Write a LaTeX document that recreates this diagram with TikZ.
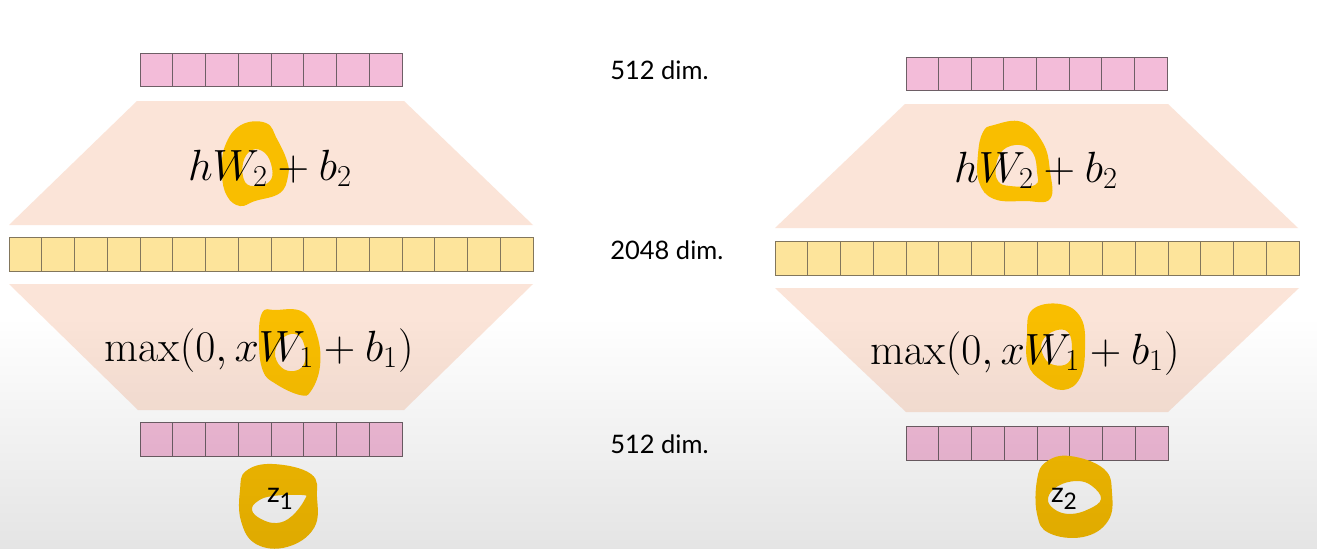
\documentclass[tikz,border=0pt]{standalone}
\usepackage{fontspec}
\newfontfamily\labfont{Lato}
\usetikzlibrary{fadings}
\definecolor{pinkc}{RGB}{243,188,217}
\definecolor{yellc}{RGB}{253,228,155}
\definecolor{peach}{RGB}{251,228,216}
\definecolor{cellline}{RGB}{110,95,102}
\definecolor{yline}{RGB}{130,118,92}
\definecolor{hl}{RGB}{249,190,0}
\tikzset{
  pinkcell/.style={fill=pinkc, draw=cellline, line width=0.55pt},
  yellcell/.style={fill=yellc, draw=yline, line width=0.55pt},
  trap/.style={fill=peach},
  hilite/.style={fill=hl, even odd rule},
  formula/.style={inner sep=0pt, anchor=base, font=\fontsize{25}{30}\selectfont},
  dimlabel/.style={inner sep=0pt, anchor=base west, font=\labfont\fontsize{14.5}{17}\selectfont},
  zlabel/.style={inner sep=0pt, anchor=base, font=\labfont\fontsize{16}{18}\selectfont},
}
\newcommand\cellbar[6]{%
  \pgfmathsetmacro\cellw{(#3-#1)/#5}%
  \foreach \i in {1,...,#5}{\draw[#6] ({#1+(\i-1)*\cellw},#2) rectangle ({#1+\i*\cellw},#4);}%
}
\begin{document}
\begin{tikzpicture}[x=0.02cm,y=-0.02cm]
\useasboundingbox (0,0) rectangle (1318,548);
\fill[white] (0,0) rectangle (1318,548);

% ---------- left column ----------
\cellbar{140}{53}{402}{86}{8}{pinkcell}
\fill[trap] (137,101) -- (404,101) -- (533,225) -- (9,225) -- cycle;
\cellbar{9}{237}{533}{271}{16}{yellcell}
\fill[trap] (9,284) -- (533,284) -- (404,410) -- (138,410) -- cycle;
\cellbar{140}{422}{402}{456}{8}{pinkcell}

% highlights left
\fill[hilite] plot[smooth cycle, tension=0.7] coordinates {(241,125) (266,123) (277,139) (287,161) (288,176) (280,193) (255,201) (240,206) (227,196) (222,174) (225,146)}
  plot[smooth cycle, tension=0.7] coordinates {(243,163) (252,150) (265,153) (272,168) (270,181) (257,186) (245,182)};
\fill[hilite] plot[smooth cycle, tension=0.7] coordinates {(262,313) (276,310) (303,312) (317,335) (320,366) (311,391) (300,395) (276,384) (263,371) (259,342)}
  plot[smooth cycle, tension=0.7] coordinates {(275,352) (284,337) (298,335) (305,348) (304,364) (294,371) (281,367)};
\fill[hilite] plot[smooth cycle, tension=0.7] coordinates {(246,471) (273,464) (311,474) (317,497) (314,528) (287,547) (256,544) (241,521) (240,490)}
  plot[smooth cycle, tension=0.7] coordinates {(252,510) (258,501) (273,496) (302,495) (305,499) (292,516) (277,523) (261,519)};

\node[formula] (f2l) at (270,180) {$hW_2+b_2$};
\node[formula] (f1l) at (259,361) {$\max(0,xW_1+b_1)$};
\node[zlabel] (z1) at (280,502) {z\raisebox{-4.5pt}{\fontsize{13}{13}\selectfont 1}};

% ---------- right column ----------
\cellbar{906}{57}{1167}{90}{8}{pinkcell}
\fill[trap] (905,104) -- (1168,104) -- (1298,228) -- (775,228) -- cycle;
\cellbar{775}{241}{1299}{275}{16}{yellcell}
\fill[trap] (775,288) -- (1299,288) -- (1168,412) -- (906,412) -- cycle;
\cellbar{906}{426}{1168}{460}{8}{pinkcell}

\fill[hilite] plot[smooth cycle, tension=0.7] coordinates {(994,125) (1022,122) (1043,143) (1050,171) (1050,199) (1025,201) (994,199) (979,182) (978,154) (983,132)}
  plot[smooth cycle, tension=0.7] coordinates {(996,166) (1003,150) (1020,145) (1033,153) (1037,172) (1035,185) (1010,186) (998,181)};
\fill[hilite] plot[smooth cycle, tension=0.7] coordinates {(1032,310) (1060,304) (1081,318) (1085,349) (1080,378) (1063,390) (1042,381) (1028,364) (1027,335)}
  plot[smooth cycle, tension=0.7] coordinates {(1042,342) (1054,331) (1068,332) (1072,349) (1068,363) (1054,365) (1044,357)};
\fill[hilite] plot[smooth cycle, tension=0.7] coordinates {(1046,462) (1070,456) (1104,469) (1112,493) (1108,521) (1083,537) (1049,533) (1037,514) (1037,480)}
  plot[smooth cycle, tension=0.7] coordinates {(1048,498) (1058,486) (1077,481) (1092,486) (1101,499) (1089,509) (1070,514) (1054,509)};

\node[formula] (f2r) at (1036,182) {$hW_2+b_2$};
\node[formula] (f1r) at (1025,364) {$\max(0,xW_1+b_1)$};
\node[zlabel] (z2) at (1064,502) {z\raisebox{-4.5pt}{\fontsize{13}{13}\selectfont 2}};

% ---------- dimension labels ----------
\node[dimlabel] (d1) at (610,79) {512 dim.};
\node[dimlabel] (d2) at (610,259) {2048 dim.};
\node[dimlabel] (d3) at (610,453) {512 dim.};

% ---------- bottom grey fade ----------
\fill[black, fill opacity=0.11, path fading=north] (0,318) rectangle (1318,560);
\end{tikzpicture}
\end{document}
